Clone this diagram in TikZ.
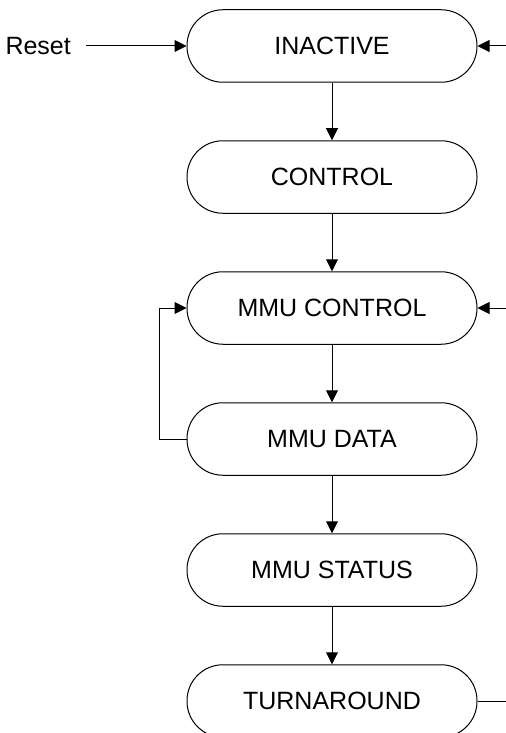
\documentclass[tikz,border=0pt]{standalone}
\usepackage{fontspec}
\setmainfont{Liberation Sans}
\usetikzlibrary{arrows.meta,positioning}

\begin{document}
\begin{tikzpicture}[>={Triangle[length=6pt,width=6pt]},line width=0.5pt,
          every node/.style={font=\fontsize{12.5}{15}\selectfont},
          statebox/.style={draw,rounded corners=18pt,minimum width=145pt,
            minimum height=36.25pt,inner sep=0pt},
          node distance=28.75pt]
        \useasboundingbox (0,0) rectangle (253pt,-366.5pt);
        \coordinate (edge) at (253pt,0);
        % states
        \node[statebox] (inactive) at (166pt,-23pt) {INACTIVE};
        \node[statebox,below=of inactive] (control) {CONTROL};
        \node[statebox,below=of control] (mmuctrl) {MMU CONTROL};
        \node[statebox,below=of mmuctrl] (mmudata) {MMU DATA};
        \node[statebox,below=of mmudata] (mmustat) {MMU STATUS};
        \node[statebox,below=of mmustat] (turn) {TURNAROUND};
        \node[anchor=west,inner xsep=7.5pt,inner ysep=0pt] (reset) at (-5pt,-23pt) {Reset};
        \coordinate (back1) at (edge |- inactive);
        \coordinate (back2) at (edge |- mmuctrl);
        \coordinate (out) at (edge |- turn);
        % transitions
        \draw[->] (reset) -- (inactive);
        \draw[->] (inactive) -- (control);
        \draw[->] (control) -- (mmuctrl);
        \draw[->] (mmuctrl) -- (mmudata);
        \draw[->] (mmudata) -- (mmustat);
        \draw[->] (mmustat) -- (turn);
        \draw[->] (mmudata.west) -- ++(-13.5pt,0) |- (mmuctrl.west);
        \draw[->] (back1) -- (inactive.east);
        \draw[->] (back2) -- (mmuctrl.east);
        \draw (turn.east) -- (out);
      \end{tikzpicture}
\end{document}
